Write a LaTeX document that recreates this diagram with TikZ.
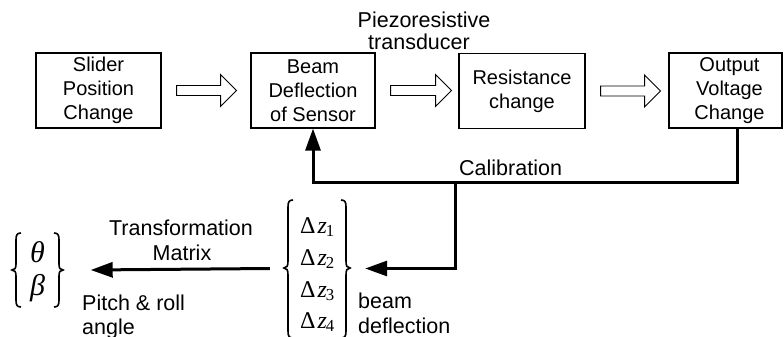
\documentclass[tikz,border=0pt]{standalone}
\usepackage{fontspec}
\setmainfont{Liberation Sans}
\newfontfamily\serifm{Liberation Serif}
\usetikzlibrary{arrows.meta,calc}
\newcommand\dzent[1]{{\fontsize{24}{26}\serifm Δ\kern2pt\itshape z\/\kern-1pt\textsubscript{\upshape #1}}}
\begin{document}
\begin{tikzpicture}[x=1pt,y=-1pt,
  box/.style={draw,line width=1.1pt,align=center,inner sep=0pt,
     minimum height=75pt,font=\fontsize{20}{24}\selectfont},
  lbl/.style={inner sep=0pt,font=\fontsize{21.5}{24}\selectfont},
  hollow/.style={draw,line width=0.9pt,fill=white},
  fb/.style={line width=3pt},
  tip/.style={-{Triangle[length=22pt,width=15pt]}},
  brc/.style={line width=1.6pt}]
\useasboundingbox (0,0) rectangle (784,337);
% boxes
\node[box,minimum width=125pt] (s1) at (98.5,90.5) {Slider\\Position\\Change};
\node[box,minimum width=124pt] (s2) at (313,90.5) {Beam\\Deflection\\of Sensor};
\node[box,minimum width=126pt] (s3) at (522,91) {Resistance\\change};
\node[box,minimum width=113pt,text width=113pt] (s4) at (725.5,90.5) {\hspace*{8pt}Output\\\hspace*{8pt}Voltage\\\hspace*{8pt}Change};
% hollow arrows
\draw[hollow] ($(s1.east)+(15,-5)$) -- ++(44,0) -- ++(0,-11) -- ++(16,16) -- ++(-16,16) -- ++(0,-11) -- ++(-44,0) -- cycle;
\draw[hollow] ($(s2.east)+(15,-5)$) -- ++(45,0) -- ++(0,-11) -- ++(16,16) -- ++(-16,16) -- ++(0,-11) -- ++(-45,0) -- cycle;
\draw[hollow] ($(s3.east)+(15,-5)$) -- ++(44,0) -- ++(0,-11) -- ++(16,16) -- ++(-16,16) -- ++(0,-11) -- ++(-44,0) -- cycle;
% labels
\node[lbl,anchor=base] (pz1) at (424,28) {Piezoresistive};
\node[lbl,anchor=base] (pz2) at (419,50) {transducer};
\node[lbl,anchor=base west] (cal) at (459,175) {Calibration};
\node[lbl,anchor=base] (tm1) at (181,235) {Transformation};
\node[lbl,anchor=base] (tm2) at (182,260) {Matrix};
\node[lbl,anchor=base west] (pr1) at (82,310) {Pitch \& roll};
\node[lbl,anchor=base west] (pr2) at (82,334) {angle};
\node[lbl,anchor=base west] (bd1) at (358,308) {beam};
\node[lbl,anchor=base west] (bd2) at (358,333) {deflection};
% vectors
\node[minimum width=66pt,minimum height=137pt,inner sep=0pt] (dz) at (317,268.5) {};
\node[inner sep=0pt,anchor=base] (z1) at (317.5,233) {\dzent{1}};
\node[inner sep=0pt,anchor=base] (z2) at (317.5,265) {\dzent{2}};
\node[inner sep=0pt,anchor=base] (z3) at (317.5,297) {\dzent{3}};
\node[inner sep=0pt,anchor=base] (z4) at (317.5,328) {\dzent{4}};
\draw[brc] (293,200) .. controls (289,200) and (288,202) .. (288,207) -- (288,261)
  .. controls (288,266) and (287,268) .. (284,268) .. controls (287,268) and (288,270) .. (288,275)
  -- (288,331) .. controls (288,336) and (289,338) .. (293,338);
\draw[brc] (341,200) .. controls (345,200) and (346,202) .. (346,207) -- (346,261)
  .. controls (346,266) and (347,268) .. (350,268) .. controls (347,268) and (346,270) .. (346,275)
  -- (346,331) .. controls (346,336) and (345,338) .. (341,338);
\node[minimum width=50pt,minimum height=74pt,inner sep=0pt] (tb) at (37.5,270) {};
\node[inner sep=0pt,anchor=base] (th) at (37.5,262) {\serifm\fontsize{30}{32}\selectfont\itshape θ};
\node[inner sep=0pt,anchor=base] (be) at (37.5,295) {\serifm\fontsize{30}{32}\selectfont\itshape β};
\draw[brc] (21,233) .. controls (17,233) and (16,235) .. (16,240) -- (16,264)
  .. controls (16,268) and (15,270) .. (12,270) .. controls (15,270) and (16,272) .. (16,276)
  -- (16,300) .. controls (16,305) and (17,307) .. (21,307);
\draw[brc] (54,233) .. controls (58,233) and (59,235) .. (59,240) -- (59,264)
  .. controls (59,268) and (60,270) .. (63,270) .. controls (60,270) and (59,272) .. (59,276)
  -- (59,300) .. controls (59,305) and (58,307) .. (54,307);
% connectors
\coordinate (c1) at (737,182);
\coordinate (c2) at (455,182);
\draw[fb,tip] (s4.south -| c1) -- (c1) -| (s2.south);
\draw[fb,tip] (c2) |- ($(dz.east)+(15,0)$);
\draw[fb,tip] ($(dz.west)+(-14,0)$) -- ($(tb.east)+(28,0)$);
\end{tikzpicture}
\end{document}
